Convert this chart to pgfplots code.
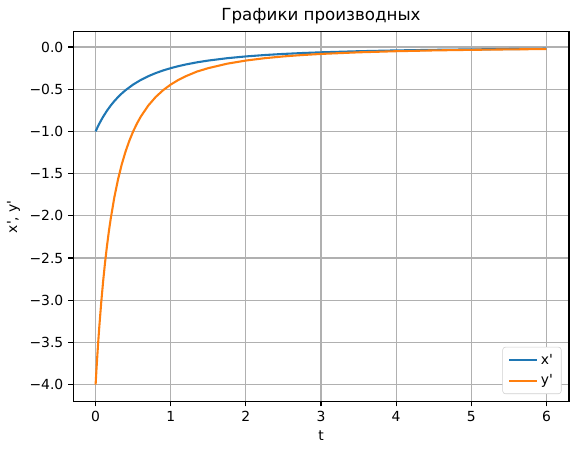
\documentclass[border=0pt]{standalone}
\usepackage{fontspec}
\setmainfont{DejaVu Sans}
\usepackage{pgfplots}
\pgfplotsset{compat=1.18}
\definecolor{mplblue}{HTML}{1F77B4}
\definecolor{mplorange}{HTML}{FF7F0E}
\definecolor{mplgrid}{HTML}{B0B0B0}
\begin{document}
\begin{tikzpicture}
\begin{axis}[
    scale only axis,
    width=357pt, height=266pt,
    xmin=-0.3, xmax=6.3,
    ymin=-4.2, ymax=0.179,
    xtick={0,1,2,3,4,5,6},
    ytick={-4,-3.5,-3,-2.5,-2,-1.5,-1,-0.5,0},
    yticklabels={−4.0,−3.5,−3.0,−2.5,−2.0,−1.5,−1.0,−0.5,0.0},
    /pgf/number format/assume math mode=true,
    tick align=outside, tick pos=left,
    major tick length=3.5pt,
    grid=major,
    grid style={mplgrid, line width=0.8pt},
    axis line style={line width=0.8pt},
    every tick/.style={black, line width=0.8pt},
    tick label style={font=\fontsize{10}{12}\selectfont},
    label style={font=\fontsize{10}{12}\selectfont},
    title style={font=\fontsize{12}{14}\selectfont, yshift=-4pt},
    title={Графики производных},
    xlabel={t},
    ylabel={x\textquotesingle, y\textquotesingle},
    legend style={at={(0.985,0.02)}, anchor=south east, draw=mplgrid!60!white,
        rounded corners=2pt, font=\fontsize{10}{12}\selectfont,
        row sep=2pt, inner xsep=4pt, inner ysep=3pt},
    legend cell align=left,
    legend image code/.code={\draw[#1] (0pt,0pt) -- (20pt,0pt);},
]
\coordinate (ll) at (rel axis cs:0,0);
\coordinate (ur) at (rel axis cs:1,1);
% x'
\addplot[mplblue, line width=1.5pt] coordinates {
    (0,-1) (0.025,-0.9518) (0.05,-0.9070) (0.075,-0.8653) (0.1,-0.8264)
    (0.15,-0.7561) (0.2,-0.6944) (0.25,-0.64) (0.3,-0.5917) (0.35,-0.5487)
    (0.4,-0.5102) (0.5,-0.4444) (0.6,-0.3906) (0.7,-0.3460) (0.8,-0.3086)
    (0.9,-0.2770) (1.0,-0.25) (1.1,-0.2268) (1.2,-0.2066) (1.35,-0.1811)
    (1.5,-0.16) (1.75,-0.1322) (2,-0.1111) (2.25,-0.0947) (2.5,-0.0816)
    (2.75,-0.0711) (3,-0.0625) (3.5,-0.0494) (4,-0.04) (4.5,-0.0331)
    (5,-0.0278) (5.5,-0.0237) (6,-0.0204)
};
\addlegendentry{x\textquotesingle}
% y'
\addplot[mplorange, line width=1.5pt] coordinates {
    (0,-4) (0.0125,-3.8062) (0.025,-3.628) (0.0375,-3.4601) (0.05,-3.3058)
    (0.075,-3.0246) (0.1,-2.7778) (0.125,-2.5600) (0.15,-2.3669) (0.175,-2.1948)
    (0.2,-2.0408) (0.25,-1.7778) (0.3,-1.5625) (0.35,-1.3841) (0.4,-1.2346)
    (0.45,-1.1080) (0.5,-1.0) (0.55,-0.9070) (0.6,-0.8264) (0.7,-0.6944)
    (0.8,-0.5917) (0.9,-0.5102) (1.0,-0.4444) (1.1,-0.3906) (1.2,-0.3460)
    (1.35,-0.2903) (1.5,-0.25) (1.75,-0.1975) (2,-0.16) (2.25,-0.1322)
    (2.5,-0.1111) (2.75,-0.0947) (3,-0.0816) (3.5,-0.0625) (4,-0.0494)
    (4.5,-0.04) (5,-0.0331) (5.5,-0.0278) (6,-0.0237)
};
\addlegendentry{y\textquotesingle}
\end{axis}
\pgfresetboundingbox
\path ([xshift=-52.6pt,yshift=-38.2pt]ll) rectangle ([xshift=6.5pt,yshift=23pt]ur);
\end{tikzpicture}
\end{document}
